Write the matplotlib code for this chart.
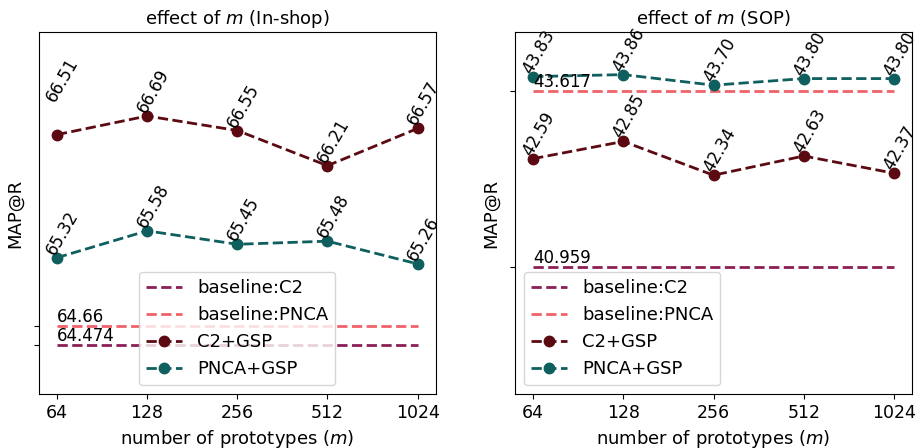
import matplotlib
matplotlib.use("Agg")
import matplotlib.pyplot as plt
import numpy as np

prototypes = ["64", "128", "256", "512", "1024"]

# In-shop
inshop_c2_gsp = [66.51, 66.69, 66.55, 66.21, 66.57]
inshop_pnca_gsp = [65.32, 65.58, 65.45, 65.48, 65.26]
inshop_base_c2 = 64.474
inshop_base_pnca = 64.66
inshop_c2_label_shift = [0.29, 0, 0, 0, 0]

# SOP
sop_c2_gsp = [42.59, 42.85, 42.34, 42.63, 42.37]
sop_pnca_gsp = [43.83, 43.86, 43.70, 43.80, 43.80]
sop_base_c2 = 40.959
sop_base_pnca = 43.617

col_base_c2 = "#8c1f55"
col_base_pnca = "#f0626a"
col_c2 = "#5c0a12"
col_pnca = "#0f5f5f"

fig, axes = plt.subplots(1, 2, figsize=(9.24, 4.48), dpi=100)
fig.subplots_adjust(left=0.042, right=0.987, bottom=0.12, top=0.928, wspace=0.2)

def draw(ax, title, c2, pnca, bc2, bpnca, ylim, legloc, c2_shift=None):
    x = np.arange(len(prototypes))
    ax.plot(x, [bc2] * len(x), "--", color=col_base_c2, lw=2, label="baseline:C2")
    ax.plot(x, [bpnca] * len(x), "--", color=col_base_pnca, lw=2, label="baseline:PNCA")
    ax.plot(x, c2, "--o", color=col_c2, lw=2, ms=7.5, label="C2+GSP")
    ax.plot(x, pnca, "--o", color=col_pnca, lw=2, ms=7.5, label="PNCA+GSP")
    shifts = c2_shift if c2_shift is not None else [0] * len(x)
    for xi, v, s in zip(x, c2, shifts):
        ax.text(xi + 0.02, v + s, f"{v:.2f}", rotation=60, fontsize=12,
                ha="left", va="bottom", rotation_mode="anchor")
    for xi, v in zip(x, pnca):
        ax.text(xi + 0.02, v, f"{v:.2f}", rotation=60, fontsize=12,
                ha="left", va="bottom", rotation_mode="anchor")
    ax.text(0, bc2, f"{bc2:g}", fontsize=12, ha="left", va="bottom")
    ax.text(0, bpnca, f"{bpnca:g}", fontsize=12, ha="left", va="bottom")
    ax.set_xticks(x)
    ax.set_xticklabels(prototypes, fontsize=12.5)
    ax.set_xlim(-0.2, 4.2)
    ax.set_ylim(*ylim)
    ax.set_yticks([bc2, bpnca])
    ax.set_yticklabels([])
    ax.set_xlabel("number of prototypes ($m$)", fontsize=13)
    ax.set_ylabel("MAP@R", fontsize=13)
    ax.set_title(title, fontsize=13)
    ax.legend(loc=legloc, fontsize=13)

draw(axes[0], "effect of $m$ (In-shop)", inshop_c2_gsp, inshop_pnca_gsp,
     inshop_base_c2, inshop_base_pnca, (64.0, 67.5), "lower center", inshop_c2_label_shift)
draw(axes[1], "effect of $m$ (SOP)", sop_c2_gsp, sop_pnca_gsp,
     sop_base_c2, sop_base_pnca, (39.03, 44.5), "lower left")

fig.savefig("out.png", dpi=100)
